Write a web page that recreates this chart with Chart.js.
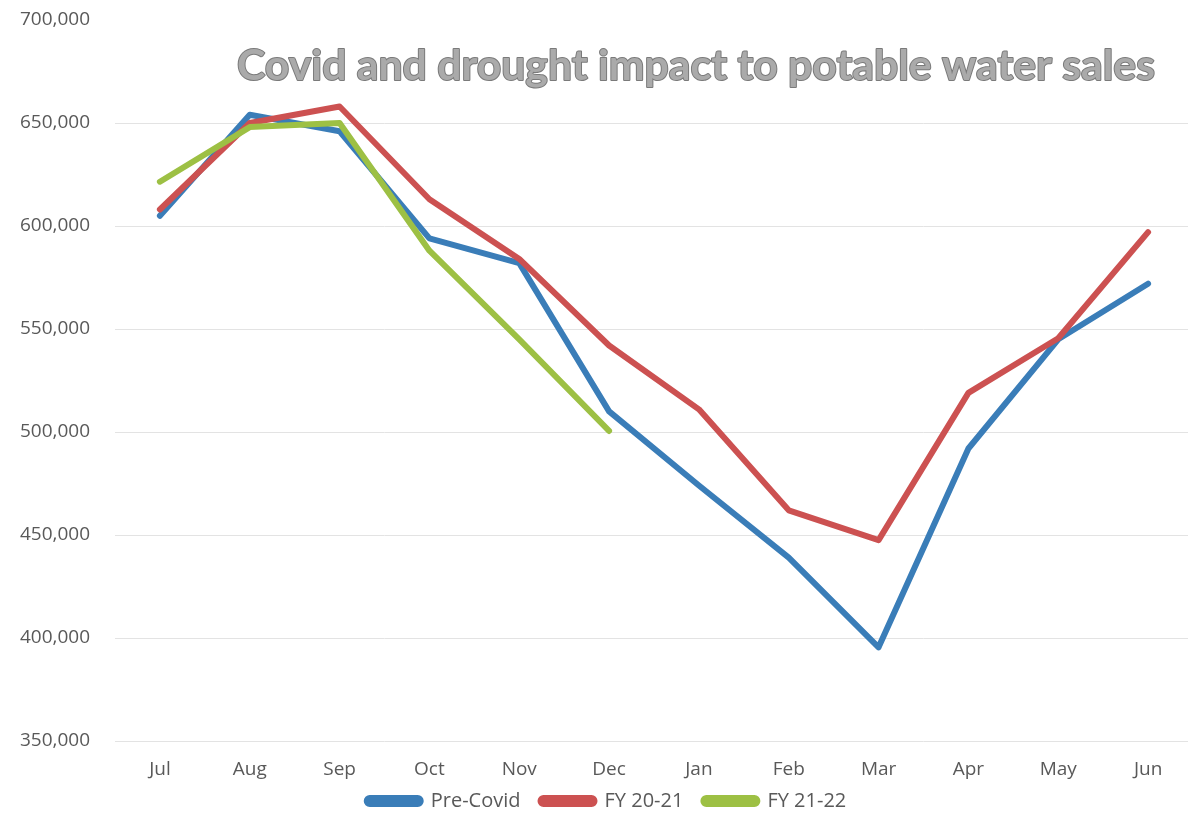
<!DOCTYPE html>
<html>
<head>
<meta charset="utf-8">
<script src="https://cdn.jsdelivr.net/npm/chart.js@4/dist/chart.umd.min.js"></script>
<style>
  html, body { margin: 0; padding: 0; background: #ffffff; overflow: hidden; }
  #wrap { width: 1196px; height: 820px; position: relative; }
</style>
</head>
<body>
<div id="wrap"><canvas id="chart"></canvas></div>
<script>
// Monthly potable water sales, fiscal year July–June
const months = ['Jul', 'Aug', 'Sep', 'Oct', 'Nov', 'Dec', 'Jan', 'Feb', 'Mar', 'Apr', 'May', 'Jun'];
const preCovid = [605000, 654000, 646000, 594000, 582000, 510000, 474000, 439000, 395500, 492000, 545000, 572000];
const fy2021 = [608000, 650000, 658000, 613000, 584000, 542000, 511000, 462000, 447500, 519000, 545500, 597000];
const fy2122 = [621500, 648000, 650000, 588000, 545000, 500500, null, null, null, null, null, null];
const yTicks = [350000, 400000, 450000, 500000, 550000, 600000, 650000, 700000];

const chartTitle = 'Covid and drought impact to potable water sales';

const LEGEND_PAD = 20;      // horizontal gap between legend items
const LEGEND_HEIGHT = 38;   // height reserved for the legend row

// Title drawn over the plot area, grey with a darker outline
const overlayTitle = {
  id: 'overlayTitle',
  beforeUpdate(chart) {
    // keep the legend row compact while using a wider gap between items
    const lg = chart.legend;
    if (lg && !lg.__compact) {
      const fit = lg.fit;
      lg.fit = function () { fit.call(this); this.height = LEGEND_HEIGHT; };
      const draw = lg.draw;
      lg.draw = function () {
        const c = this.ctx;
        c.save();
        c.translate(0, -(LEGEND_PAD - 9));
        draw.call(this);
        c.restore();
      };
      lg.__compact = true;
    }
  },
  afterDraw(chart) {
    const ctx = chart.ctx;
    ctx.save();
    let size = 40;
    ctx.font = `bold ${size}px Lato, "Open Sans", sans-serif`;
    const w = ctx.measureText(chartTitle).width;
    size = size * 918 / w;
    ctx.font = `bold ${size}px Lato, "Open Sans", sans-serif`;
    ctx.textAlign = 'center';
    ctx.textBaseline = 'alphabetic';
    ctx.lineJoin = 'round';
    ctx.lineWidth = 2;
    ctx.strokeStyle = '#7a7a7a';
    ctx.strokeText(chartTitle, 696, 80);
    ctx.fillStyle = '#aaaaaa';
    ctx.fillText(chartTitle, 696, 80);
    ctx.restore();
  }
};

const tickFont = { family: '"Open Sans", sans-serif', size: 19 };

new Chart(document.getElementById('chart'), {
  type: 'line',
  data: {
    labels: months,
    datasets: [
      { label: 'Pre-Covid', data: preCovid, borderColor: '#3a7db8', backgroundColor: '#3a7db8', order: 3 },
      { label: 'FY 20-21', data: fy2021, borderColor: '#cc5151', backgroundColor: '#cc5151', order: 2 },
      { label: 'FY 21-22', data: fy2122, borderColor: '#9dc044', backgroundColor: '#9dc044', order: 1 }
    ]
  },
  options: {
    responsive: true,
    maintainAspectRatio: false,
    animation: false,
    layout: { padding: { top: 20, right: 3, left: 20, bottom: 0 } },
    elements: {
      line: { borderWidth: 6, tension: 0, borderCapStyle: 'round', borderJoinStyle: 'round' },
      point: { radius: 0, hoverRadius: 0 }
    },
    scales: {
      x: {
        offset: true,
        grid: { display: false, drawTicks: false },
        border: { display: false },
        ticks: { color: '#595959', font: tickFont, padding: 17, maxRotation: 0 },
        afterFit(scale) { scale.height = 41; }
      },
      y: {
        min: 350000,
        max: 700000,
        afterBuildTicks(scale) { scale.ticks = yTicks.map(v => ({ value: v })); },
        grid: {
          drawTicks: false,
          lineWidth: 1,
          color: ctx => (ctx.tick && ctx.tick.value === 700000) ? 'rgba(0,0,0,0)' : '#e3e3e3'
        },
        border: { display: false },
        ticks: {
          color: '#595959',
          font: tickFont,
          padding: 25,
          callback: v => v.toLocaleString('en-US')
        },
        afterFit(scale) {
          scale.width = 95;
          scale.paddingTop = 0;
          scale.paddingBottom = 0;
        }
      }
    },
    plugins: {
      legend: {
        position: 'bottom',
        labels: {
          color: '#595959',
          font: { family: '"Open Sans", sans-serif', size: 20 },
          boxWidth: 54,
          boxHeight: 6,
          useBorderRadius: true,
          borderRadius: 3,
          padding: LEGEND_PAD,
          sort: (a, b) => a.datasetIndex - b.datasetIndex
        }
      },
      tooltip: { enabled: false }
    }
  },
  plugins: [overlayTitle]
});
</script>
</body>
</html>
